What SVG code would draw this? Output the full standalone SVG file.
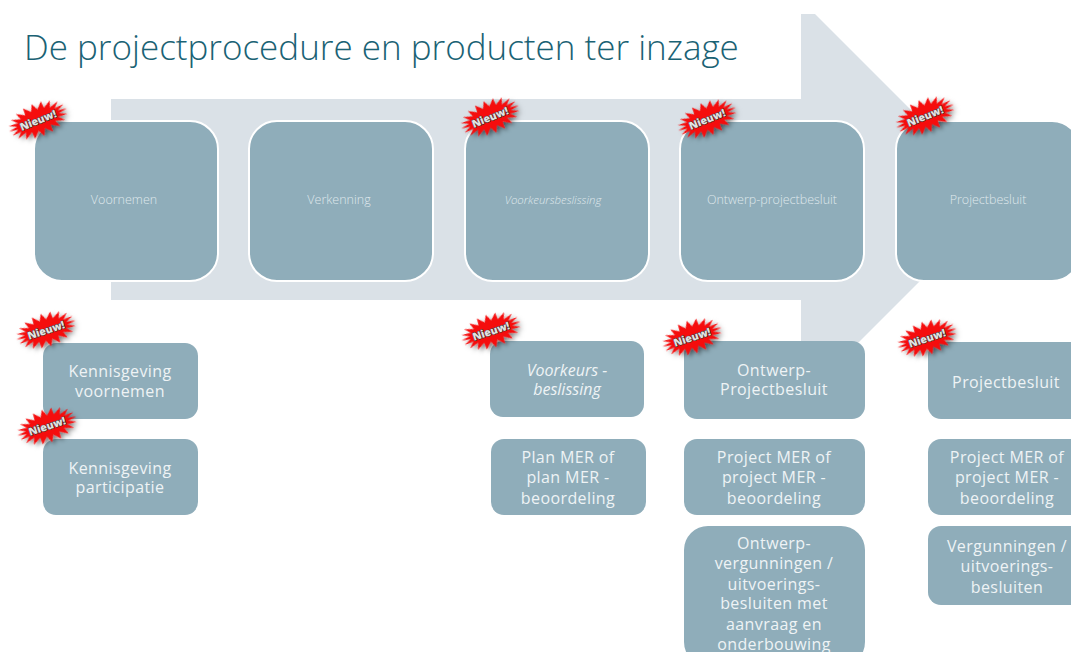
<svg xmlns="http://www.w3.org/2000/svg" width="1071" height="652" viewBox="0 0 1071 652">
<style>
text{font-family:"Open Sans","Noto Sans","Liberation Sans",sans-serif;text-anchor:middle}
.title{font-size:35px;font-weight:300;fill:#1a6274;text-anchor:start}
.big{fill:#8fadba;stroke:#fff;stroke-width:2}
.small{fill:#8fadba}
.bl{font-size:12.5px;font-weight:300;fill:#dfe8ec}
.it{font-size:11.4px;font-style:italic}
.sl{font-size:16px;fill:#eef3f5;letter-spacing:.4px}
.si{font-style:italic;letter-spacing:0}
.nw{font-size:10.5px;font-weight:800;fill:#e2e2e2;stroke:#333;stroke-width:1;paint-order:stroke}
</style>
<defs>
<filter id="sh" x="-30%" y="-30%" width="170%" height="170%"><feDropShadow dx="2" dy="3" stdDeviation="2" flood-color="#000" flood-opacity=".5"/></filter>
<g id="burst"><polygon fill="#f50b0b" filter="url(#sh)" points="31,0 21.7,1.6 29.5,5.3 19.6,4.5 25.1,10 15.6,7.1 18.2,13.8 10,8.9 9.6,16.2 3.4,9.9 0,17 -3.4,9.9 -9.6,16.2 -10,8.9 -18.2,13.8 -15.6,7.1 -25.1,10 -19.6,4.5 -29.5,5.3 -21.7,1.6 -31,0 -21.7,-1.6 -29.5,-5.3 -19.6,-4.5 -25.1,-10 -15.6,-7.1 -18.2,-13.8 -10,-8.9 -9.6,-16.2 -3.4,-9.9 0,-17 3.4,-9.9 9.6,-16.2 10,-8.9 18.2,-13.8 15.6,-7.1 25.1,-10 19.6,-4.5 29.5,-5.3 21.7,-1.6"/></g>
</defs>
<polygon id="arrow" fill="#dae1e7" points="111,99 801,99 801,14 815,14 1001,200 815,386 801,386 801,300 111,300"/>
<text class="title" x="24" y="60">De projectprocedure en producten ter inzage</text>

<g id="n-voornemen"><rect class="big" x="34" y="121" width="184" height="160" rx="28"/><text class="bl" x="124" y="204">Voornemen</text></g>
<g id="n-verkenning"><rect class="big" x="249" y="121" width="184" height="160" rx="28"/><text class="bl" x="339" y="204">Verkenning</text></g>
<g id="n-voorkeursbeslissing"><rect class="big" x="465" y="121" width="184" height="160" rx="28"/><text class="bl it" x="553" y="204">Voorkeursbeslissing</text></g>
<g id="n-ontwerp"><rect class="big" x="680" y="121" width="184" height="160" rx="28"/><text class="bl" x="772" y="204">Ontwerp-projectbesluit</text></g>
<g id="n-projectbesluit"><rect class="big" x="896" y="121" width="184" height="160" rx="28"/><text class="bl" x="988" y="204">Projectbesluit</text></g>

<g id="p-kennisgeving-voornemen"><rect class="small" x="43" y="343" width="155" height="76" rx="13"/><text class="sl" x="120" y="377">Kennisgeving</text><text class="sl" x="120" y="397">voornemen</text></g>
<g id="p-kennisgeving-participatie"><rect class="small" x="43" y="439" width="155" height="76" rx="13"/><text class="sl" x="120" y="474">Kennisgeving</text><text class="sl" x="120" y="493">participatie</text></g>
<g id="p-voorkeurs"><rect class="small" x="490" y="341" width="154" height="76" rx="13"/><text class="sl si" x="567" y="376">Voorkeurs -</text><text class="sl si" x="567" y="395">beslissing</text></g>
<g id="p-planmer"><rect class="small" x="491" y="439" width="155" height="76" rx="13"/><text class="sl" x="568" y="463">Plan MER of</text><text class="sl" x="568" y="483">plan MER -</text><text class="sl" x="568" y="504">beoordeling</text></g>
<g id="p-ontwerp"><rect class="small" x="684" y="341" width="181" height="78" rx="13"/><text class="sl" x="774" y="376">Ontwerp-</text><text class="sl" x="774" y="395">Projectbesluit</text></g>
<g id="p-projectmer1"><rect class="small" x="684" y="439" width="181" height="76" rx="13"/><text class="sl" x="774" y="463">Project MER of</text><text class="sl" x="774" y="483">project MER -</text><text class="sl" x="774" y="504">beoordeling</text></g>
<g id="p-ontwerpverg"><rect class="small" x="684" y="526" width="181" height="140" rx="24"/><text class="sl" x="774" y="549">Ontwerp-</text><text class="sl" x="774" y="569">vergunningen /</text><text class="sl" x="774" y="590">uitvoerings-</text><text class="sl" x="774" y="609">besluiten met</text><text class="sl" x="774" y="630">aanvraag en</text><text class="sl" x="774" y="650">onderbouwing</text></g>
<g id="p-projectbesluit"><rect class="small" x="928" y="342" width="160" height="77" rx="13"/><text class="sl" x="1006" y="388">Projectbesluit</text></g>
<g id="p-projectmer2"><rect class="small" x="928" y="439" width="160" height="76" rx="13"/><text class="sl" x="1007" y="463">Project MER of</text><text class="sl" x="1007" y="483">project MER -</text><text class="sl" x="1007" y="504">beoordeling</text></g>
<g id="p-vergunningen"><rect class="small" x="928" y="526" width="160" height="79" rx="13"/><text class="sl" x="1007" y="552">Vergunningen /</text><text class="sl" x="1007" y="572">uitvoerings-</text><text class="sl" x="1007" y="593">besluiten</text></g>

<g id="badge-1" transform="translate(38 120) rotate(-22)"><use href="#burst"/><text class="nw" y="4">Nieuw!</text></g>
<g id="badge-2" transform="translate(46 330) rotate(-18)"><use href="#burst"/><text class="nw" y="4">Nieuw!</text></g>
<g id="badge-3" transform="translate(47 426) rotate(-18)"><use href="#burst"/><text class="nw" y="4">Nieuw!</text></g>
<g id="badge-4" transform="translate(490 117) rotate(-22)"><use href="#burst"/><text class="nw" y="4">Nieuw!</text></g>
<g id="badge-5" transform="translate(707 119) rotate(-22)"><use href="#burst"/><text class="nw" y="4">Nieuw!</text></g>
<g id="badge-6" transform="translate(925 116) rotate(-22)"><use href="#burst"/><text class="nw" y="4">Nieuw!</text></g>
<g id="badge-7" transform="translate(491 331) rotate(-18)"><use href="#burst"/><text class="nw" y="4">Nieuw!</text></g>
<g id="badge-8" transform="translate(692 337) rotate(-18)"><use href="#burst"/><text class="nw" y="4">Nieuw!</text></g>
<g id="badge-9" transform="translate(927 338) rotate(-18)"><use href="#burst"/><text class="nw" y="4">Nieuw!</text></g>
</svg>
